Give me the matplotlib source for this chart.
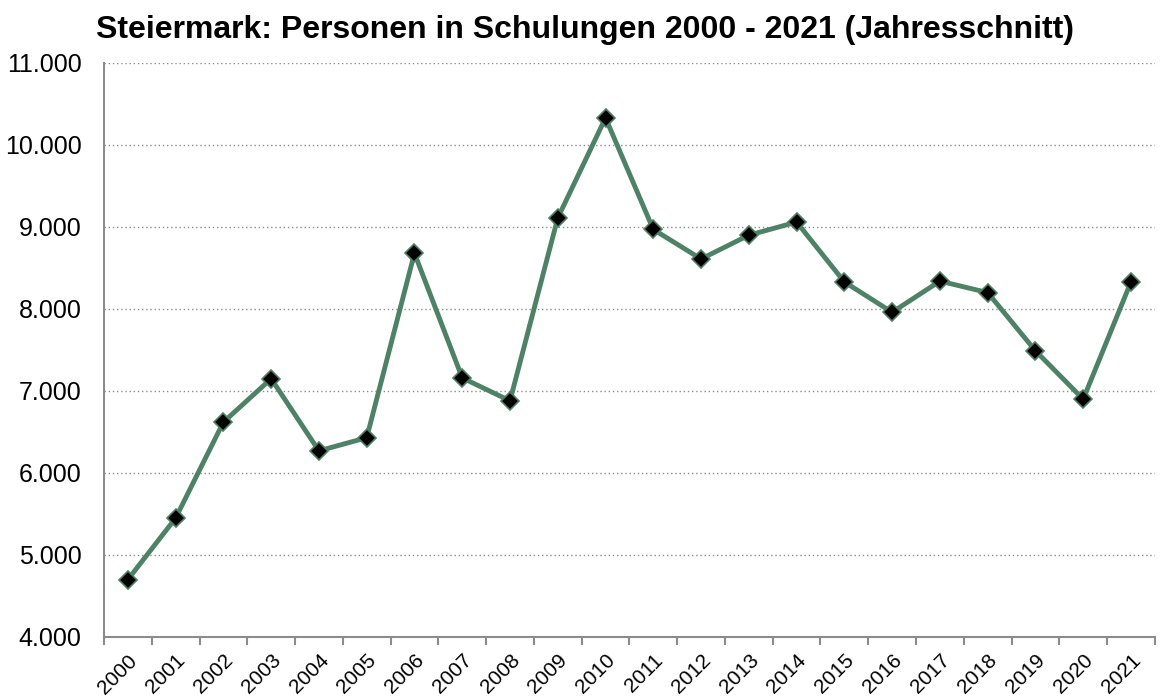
import matplotlib
matplotlib.use("Agg")
import matplotlib.pyplot as plt
from matplotlib.ticker import FuncFormatter, FixedLocator

plt.rcParams['font.family'] = ['Liberation Sans', 'DejaVu Sans']

years = list(range(2000, 2022))
personen = [4700, 5450, 6620, 7150, 6270, 6430, 8680, 7160, 6880, 9110,
            10330, 8970, 8610, 8900, 9060, 8330, 7960, 8340, 8200, 7490,
            6900, 8330]

fig = plt.figure(figsize=(11.63, 6.96), dpi=100)
ax = fig.add_axes([0.0894, 0.0848, 0.9036, 0.8247])

x = list(range(len(years)))
ax.plot(x, personen, color='#4e8266', linewidth=3.5, zorder=3,
        marker='D', markersize=9, markerfacecolor='black',
        markeredgecolor='#4e8266', markeredgewidth=1.2)

ax.set_xlim(-0.5, len(years) - 0.5)
ax.set_ylim(4000, 11000)
ax.set_yticks(range(4000, 11001, 1000))
ax.yaxis.set_major_formatter(FuncFormatter(lambda v, p: f"{int(v):,}".replace(",", ".")))
ax.tick_params(axis='y', length=0, labelsize=18, pad=16)

# Jahr-Labels mittig, Striche an den Kategoriegrenzen
ax.set_xticks(x)
ax.set_xticklabels([str(y) for y in years], rotation=45, ha='right',
                   rotation_mode='anchor', fontsize=15)
ax.tick_params(axis='x', which='major', length=0, pad=10)
ax.xaxis.set_minor_locator(FixedLocator([i - 0.5 for i in range(len(years) + 1)]))
ax.tick_params(axis='x', which='minor', length=6, width=1.5, color='#8c8c8c')

ax.grid(axis='y', linestyle=(0, (1, 2)), color='#8c8c8c', linewidth=1)
ax.set_axisbelow(True)
for s in ['top', 'right']:
    ax.spines[s].set_visible(False)
for s in ['left', 'bottom']:
    ax.spines[s].set_color('#8c8c8c')
    ax.spines[s].set_linewidth(1.5)

fig.text(0.503, 0.957, 'Steiermark: Personen in Schulungen 2000 - 2021 (Jahresschnitt)',
         ha='center', va='center', fontsize=23, fontweight='bold')

fig.savefig('out.png', dpi=100)
